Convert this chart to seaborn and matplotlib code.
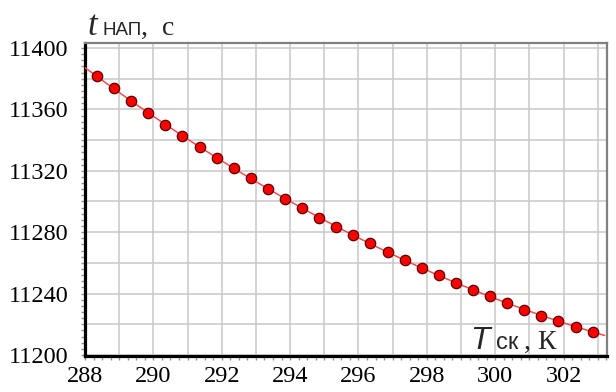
import numpy as np
import pandas as pd
import matplotlib
matplotlib.use("Agg")
import matplotlib.pyplot as plt
import matplotlib.ticker as mticker
import seaborn as sns

# Data
T_sk = [288.35, 288.85, 289.35, 289.85, 290.35, 290.85, 291.35, 291.85, 292.35, 292.85,
        293.35, 293.85, 294.35, 294.85, 295.35, 295.85, 296.35, 296.85, 297.35, 297.85,
        298.35, 298.85, 299.35, 299.85, 300.35, 300.85, 301.35, 301.85, 302.35, 302.85]
t_nap = [11381.8, 11373.7, 11365.7, 11357.7, 11350.0, 11342.5, 11335.3, 11328.5, 11321.8, 11315.3,
         11308.1, 11301.6, 11295.6, 11289.4, 11283.4, 11278.0, 11272.8, 11267.3, 11262.1, 11256.7,
         11251.9, 11247.1, 11242.3, 11238.4, 11233.9, 11229.5, 11225.4, 11222.1, 11218.2, 11215.0]
x_ticks = [288, 290, 292, 294, 296, 298, 300, 302]
y_ticks = [11200, 11240, 11280, 11320, 11360, 11400]

df = pd.DataFrame({"T": T_sk, "t": t_nap})

# smooth trend curve fitted to the points (drawn across the axis span)
coef = np.polyfit(df["T"], df["t"], 2)
xf = np.linspace(288.0, 303.2, 200)
fit = pd.DataFrame({"T": xf, "t": np.polyval(coef, xf)})

sns.set_style("white")
plt.rcParams["font.family"] = ["Liberation Serif", "DejaVu Serif"]

fig = plt.figure(figsize=(6.16, 3.92), dpi=100)
ax = fig.add_axes([85/616, 1 - 356/392, (607-85)/616, (356-43)/392])

sns.lineplot(data=fit, x="T", y="t", ax=ax, color="#ff4a4a", lw=1.1, zorder=3)
sns.scatterplot(data=df, x="T", y="t", ax=ax, s=56, color="#ff0000",
                edgecolor="#5a0000", linewidth=0.9, zorder=4)

ax.set_xlim(288.0, 303.27)
ax.set_ylim(11199.3, 11403.3)

ax.xaxis.set_major_locator(mticker.MultipleLocator(1))
ax.yaxis.set_major_locator(mticker.MultipleLocator(20))
ax.xaxis.set_minor_locator(mticker.MultipleLocator(0.25))
ax.yaxis.set_minor_locator(mticker.MultipleLocator(4))

def xfmt(v, pos):
    iv = int(round(v))
    return str(iv) if iv in x_ticks else ""

def yfmt(v, pos):
    iv = int(round(v))
    return str(iv) if iv in y_ticks else ""

ax.xaxis.set_major_formatter(mticker.FuncFormatter(xfmt))
ax.yaxis.set_major_formatter(mticker.FuncFormatter(yfmt))

ax.grid(True, which="major", color="#c8c8c8", lw=1.1)
ax.set_axisbelow(True)

ax.tick_params(which="both", direction="out", color="#909090", width=1.0,
               length=3, labelsize=17.5, labelcolor="black")
ax.tick_params(axis="x", which="major", pad=4)
ax.tick_params(axis="y", which="major", pad=9)
ax.tick_params(which="both", bottom=True, left=True, top=False, right=False)

for side in ["left", "bottom"]:
    ax.spines[side].set_color("black")
    ax.spines[side].set_linewidth(2.3)
for side in ["top", "right"]:
    ax.spines[side].set_color("#808080")
    ax.spines[side].set_linewidth(1.6)

ax.set_xlabel("")
ax.set_ylabel("")

# axis titles
fig.text(87/616, 1 - 35/392, "t", fontsize=25, style="italic",
         family=["Liberation Serif"], ha="left", va="baseline")
fig.text(103/616, 1 - 35/392, "НАП", fontsize=13.5, family=["Liberation Sans"],
         ha="left", va="baseline")
fig.text(141/616, 1 - 35/392, ",  с", fontsize=20, family=["Liberation Serif"],
         ha="left", va="baseline")

fig.text(470/616, 1 - 349/392, "T", fontsize=23, style="italic",
         family=["Liberation Sans"], ha="left", va="baseline")
fig.text(496/616, 1 - 349/392, "ск", fontsize=17, family=["Liberation Sans"],
         ha="left", va="baseline")
fig.text(524/616, 1 - 349/392, ", К", fontsize=20, family=["Liberation Serif"],
         ha="left", va="baseline")

fig.savefig("out.png", dpi=100)
